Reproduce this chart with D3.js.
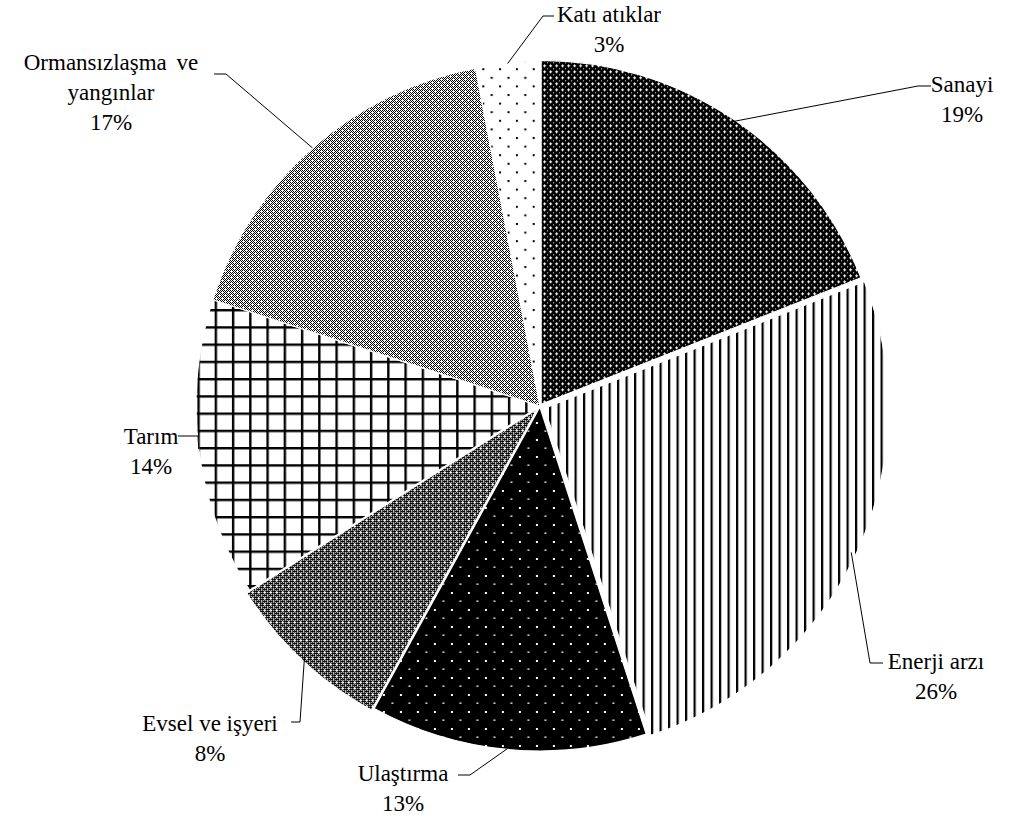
<!DOCTYPE html>
<html>
<head>
<meta charset="utf-8">
<script src="https://cdn.jsdelivr.net/npm/d3@7"></script>
<style>
  html, body { margin: 0; padding: 0; background: #fff; }
  svg { display: block; }
</style>
</head>
<body>
<div id="chart"></div>
<script>
// Chart data (clockwise from 12 o'clock)
const categories = ['Sanayi', 'Enerji arzı', 'Ulaştırma', 'Evsel ve işyeri', 'Tarım', 'Ormansızlaşma ve yangınlar', 'Katı atıklar'];
const values = [19, 26, 13, 8, 14, 17, 3];
const labelLines = [
  ['Sanayi'], ['Enerji arzı'], ['Ulaştırma'], ['Evsel ve işyeri'], ['Tarım'],
  ['Ormansızlaşma ve', 'yangınlar'], ['Katı atıklar']
];

// Layout only (not data): text position + leader elbow/tick for each label
const labelLayout = [
  { x: 962, y: 92, tick: [[918, 86], [931, 86]] },
  { x: 936, y: 669, tick: [[870, 663], [883, 663]] },
  { x: 403, y: 781, tick: [[470, 775], [458, 775]] },
  { x: 210, y: 731, tick: [[300, 722], [291, 722]] },
  { x: 151, y: 444, tick: [[198, 436], [178, 436]] },
  { x: 111, y: 70, tick: [[226, 74], [214, 74]], wordSpacing: 4 },
  { x: 609, y: 22, tick: [[543, 16], [554, 16]] }
];
const explode = [2, 5, 1, 4, 0, 0, 1];

const width = 1018, height = 827;
const cx = 540, cy = 406, radius = 344;

const svg = d3.select('#chart').append('svg')
  .attr('width', width)
  .attr('height', height);

const defs = svg.append('defs');

// build a pixel pattern from a function (x,y) -> true for black
function pixelPattern(id, size, fn, ox, oy) {
  const p = defs.append('pattern')
    .attr('id', id)
    .attr('patternUnits', 'userSpaceOnUse')
    .attr('x', ox || 0).attr('y', oy || 0)
    .attr('width', size).attr('height', size);
  p.append('rect').attr('width', size).attr('height', size).attr('fill', '#fff');
  for (let y = 0; y < size; y++) {
    for (let x = 0; x < size; x++) {
      if (fn(x, y)) {
        p.append('rect').attr('x', x).attr('y', y).attr('width', 1).attr('height', 1)
          .attr('fill', '#000').attr('shape-rendering', 'crispEdges');
      }
    }
  }
}

const plus = (x, y, px, py) => (x === px && Math.abs(y - py) <= 1) || (y === py && Math.abs(x - px) <= 1);

// Sanayi: black with white crosses
pixelPattern('p0', 6, (x, y) => !(plus(x, y, 3, 3) || (x === 0 && y === 0)));
// Evsel: dark checker with white crosses
pixelPattern('p3', 6, (x, y) => !plus(x, y, 3, 3) && !(x % 2 === 0 && y % 2 === 1) && !(x === 0 && y === 0));
// Ormansızlaşma: lighter checkerboard
pixelPattern('p5', 6, (x, y) => (x + y) % 2 === 0 && !plus(x, y, 3, 3) && !plus(x, y, 0, 0) && !(x === 0 && y === 5) && !(x === 5 && y === 0));

// Enerji: vertical lines
const pv = defs.append('pattern').attr('id', 'p1').attr('patternUnits', 'userSpaceOnUse')
  .attr('x', 4.5).attr('width', 8.5).attr('height', 10);
pv.append('rect').attr('width', 8.5).attr('height', 10).attr('fill', '#fff');
pv.append('rect').attr('width', 2.2).attr('height', 10).attr('fill', '#000');

// Ulaştırma: black with white dots
const pu = defs.append('pattern').attr('id', 'p2').attr('patternUnits', 'userSpaceOnUse')
  .attr('x', 454).attr('y', 558).attr('width', 17).attr('height', 17);
pu.append('rect').attr('width', 17).attr('height', 17).attr('fill', '#000');
pu.append('rect').attr('x', 1).attr('y', 1).attr('width', 2).attr('height', 2).attr('fill', '#fff');
pu.append('rect').attr('x', 9.5).attr('y', 9.5).attr('width', 2).attr('height', 1.3).attr('fill', '#fff');

// Tarım: grid
const pg = defs.append('pattern').attr('id', 'p4').attr('patternUnits', 'userSpaceOnUse')
  .attr('x', 2.4).attr('y', 6.5).attr('width', 17.25).attr('height', 17.25);
pg.append('rect').attr('width', 17.25).attr('height', 17.25).attr('fill', '#fff');
pg.append('rect').attr('width', 2.4).attr('height', 17.25).attr('fill', '#000');
pg.append('rect').attr('width', 17.25).attr('height', 2.4).attr('fill', '#000');

// Katı atıklar: white with black dots
const pk = defs.append('pattern').attr('id', 'p6').attr('patternUnits', 'userSpaceOnUse')
  .attr('x', 480).attr('y', 76).attr('width', 16.8).attr('height', 17.2);
pk.append('rect').attr('width', 16.8).attr('height', 17.2).attr('fill', '#fff');
pk.append('rect').attr('x', 0).attr('y', 0).attr('width', 2).attr('height', 2).attr('fill', '#000');
pk.append('rect').attr('x', 8.4).attr('y', 8.6).attr('width', 2).attr('height', 2).attr('fill', '#000');

const pie = d3.pie().sort(null).value(d => d)(values);
const arc = d3.arc().innerRadius(0).outerRadius(radius);
const rimArc = d3.arc().innerRadius(radius).outerRadius(radius);

const g = svg.append('g').attr('transform', `translate(${cx},${cy})`);

g.selectAll('path.slice')
  .data(pie)
  .join('path')
  .attr('class', 'slice')
  .attr('d', arc)
  .attr('transform', (d, i) => {
    const a = (d.startAngle + d.endAngle) / 2;
    return `translate(${Math.sin(a) * explode[i]},${-Math.cos(a) * explode[i]})`;
  })
  .attr('fill', (d, i) => `url(#p${i})`)
  .attr('stroke', '#fff')
  .attr('stroke-width', 1.2);

// leader lines
svg.append('g').selectAll('polyline')
  .data(pie)
  .join('polyline')
  .attr('points', (d, i) => {
    const [px, py] = rimArc.centroid(d);
    const t = labelLayout[i].tick;
    return [[cx + px, cy + py], t[0], t[1]].map(p => p.join(',')).join(' ');
  })
  .attr('fill', 'none')
  .attr('stroke', '#000')
  .attr('stroke-width', 1);

// labels: one text element per line
const labelRows = [];
pie.forEach((d, i) => {
  labelLines[i].concat([d.data + '%']).forEach((line, j) => {
    labelRows.push({ text: line, x: labelLayout[i].x, y: labelLayout[i].y + j * 30,
      ws: j === 0 ? labelLayout[i].wordSpacing : null });
  });
});

svg.append('g').selectAll('text')
  .data(labelRows)
  .join('text')
  .attr('text-anchor', 'middle')
  .style('font-family', "'Liberation Serif'")
  .style('font-size', '23px')
  .style('word-spacing', d => d.ws ? d.ws + 'px' : null)
  .attr('fill', '#000')
  .attr('x', d => d.x)
  .attr('y', d => d.y)
  .text(d => d.text);
</script>
</body>
</html>
